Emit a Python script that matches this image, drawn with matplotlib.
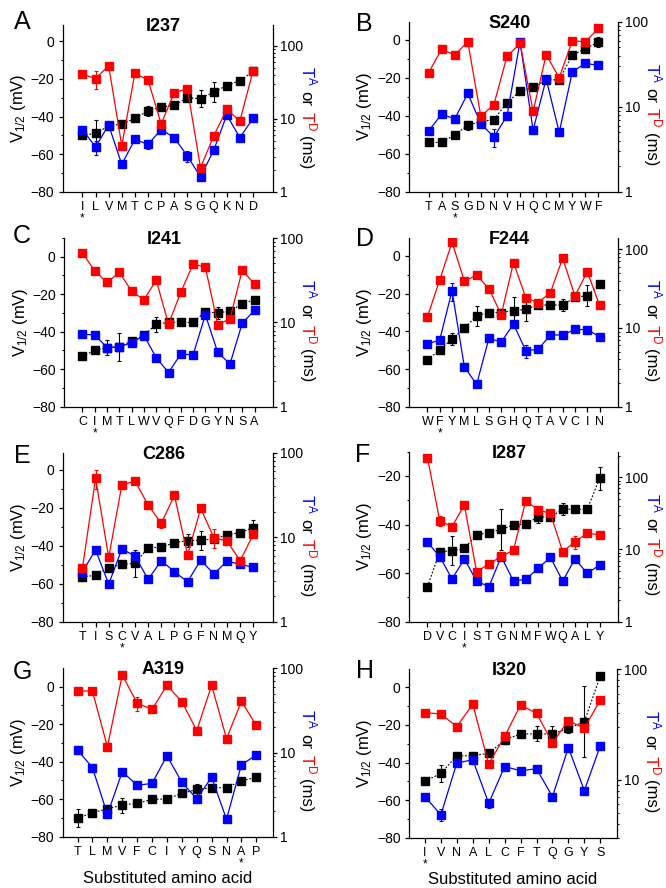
import matplotlib
matplotlib.use('Agg')
import matplotlib.pyplot as plt
from matplotlib.ticker import MultipleLocator, LogLocator, FuncFormatter, NullFormatter
import matplotlib.transforms as mtransforms

plt.rcParams['font.family'] = ['Liberation Sans', 'DejaVu Sans']
plt.rcParams['mathtext.fontset'] = 'custom'
plt.rcParams['mathtext.rm'] = 'Liberation Sans'
plt.rcParams['mathtext.it'] = 'Liberation Sans:italic'
plt.rcParams['mathtext.bf'] = 'Liberation Sans:bold'

# ---------------- data ----------------
A_aa = list("ILVMTCPASGQKND")
A_wt = 0
A_v = [-50, -49, -45, -44, -41, -37, -35, -34, -30, -30.5, -27, -23.5, -21, -16]
A_v_err = [0, 7, 2, 0, 0, 2.5, 0, 1.5, 0, 4.5, 5.5, 0, 0, 0]
A_ta = [7.1, 4.1, 8.2, 2.37, 5.2, 4.45, 7.1, 5.5, 3.08, 1.6, 3.68, 11.2, 5.5, 10.1]
A_ta_err = [0.5, 0.9, 0.4, 0.26, 0.3, 0.6, 0, 0.4, 0.5, 0.14, 0.3, 0.5, 0.4, 0.7]
A_td = [40.9, 35.3, 53.2, 4.27, 41.8, 33.9, 8.5, 22.7, 25.8, 2.13, 5.79, 13.4, 9.3, 45]
A_td_err = [0, 10, 6, 0, 0, 3.7, 0.9, 0, 0, 0, 0, 0, 0, 0]

B_aa = list("TASGDNVHQCMYWF")
B_wt = 2
B_v = [-54, -54, -50, -45, -43, -42, -33, -27, -25, -21, -21, -8, -4.5, -1.2]
B_v_err = [0, 0, 0, 2.5, 0, 0, 0, 0, 0, 0, 0, 0, 0, 2.6]
B_ta = [5.17, 8.2, 7.16, 14.3, 6.3, 4.4, 7.77, 58, 5.3, 21.2, 4.99, 25.6, 32.4, 30.6]
B_ta_err = [0.3, 0.4, 0.3, 1.0, 0.3, 1.0, 0.5, 3, 0.4, 0.8, 0.45, 0.8, 0.8, 0.8]
B_td = [25.1, 47.7, 40.5, 58, 7.7, 10.6, 39, 55.6, 8.8, 40.9, 21.9, 59.7, 58, 83.5]
B_td_err = [1.2, 0, 0, 0, 0, 0, 0, 0, 0, 0, 0, 0, 0, 0]

C_aa = list("CIMTLWVQFDGYNSA")
C_wt = 1
C_v = [-53, -50, -48.5, -48, -45, -42, -36, -35, -35, -35, -29.3, -30, -29, -25, -23]
C_v_err = [1.5, 0.5, 4, 7.5, 0.5, 0, 4, 0, 0, 0, 1, 3, 2, 0, 0]
C_ta = [7.23, 7.1, 5.02, 5.1, 5.75, 6.98, 3.82, 2.54, 4.22, 4.11, 12.3, 4.42, 3.21, 9.78, 13.9]
C_ta_err = [0.3, 0.3, 0.3, 0.3, 0.2, 0, 0.2, 0, 0, 0, 0, 0.2, 0, 0, 0]
C_td = [66.3, 40.9, 29.7, 39.1, 23.5, 18.5, 31.7, 9.5, 22.8, 49.1, 45.2, 9.4, 11, 41.7, 28.2]
C_td_err = [0, 0, 0, 0, 0, 0, 0, 0, 0, 0, 0, 0, 0, 0, 0]

D_aa = list("WFYMLSGHQTAVCIN")
D_wt = 1
D_v = [-55, -50, -44, -38.4, -31.7, -30, -30, -29, -28.3, -26, -26, -26, -22, -21, -15]
D_v_err = [0, 0, 3, 2, 5.3, 0, 0, 7, 6, 0, 0, 3, 0, 5.5, 0]
D_ta = [6.26, 7.04, 29.8, 3.22, 1.92, 7.39, 6.64, 11.2, 5.15, 5.35, 8.15, 8.15, 9.6, 9.5, 7.76]
D_ta_err = [0, 0, 8, 0.25, 0, 0, 0, 0.5, 1.0, 0, 0.6, 0.6, 0, 0, 1.0]
D_td = [13.9, 40.8, 122.7, 39.6, 46.7, 31.6, 14.8, 67.7, 24.3, 21, 28.1, 76.9, 25.5, 52, 19.4]
D_td_err = [1.5, 0, 0, 0, 0, 0, 0, 0, 0, 0, 0, 0, 0, 0, 0]

E_aa = list("TISCVALPGFNMQY")
E_wt = 3
E_v = [-56.3, -55.6, -51.5, -49.8, -49.2, -41, -40.8, -38.3, -37.3, -37, -36.4, -34.3, -33, -30.4]
E_v_err = [2, 1.5, 0, 0, 7, 1, 2, 0, 3.5, 5, 0, 0, 0, 4]
E_ta = [3.9, 7.05, 2.79, 7.25, 5.98, 3.17, 5.27, 3.9, 2.97, 5.37, 3.66, 5.22, 4.77, 4.4]
E_ta_err = [0, 0, 0.2, 0, 0.5, 0.25, 0, 0, 0, 0, 0, 0, 0, 0.3]
E_td = [4.28, 49.7, 5.77, 41.4, 46.2, 24, 14.6, 31.3, 6.15, 21.9, 9.86, 9.0, 5.27, 10.8]
E_td_err = [0, 13, 0, 0, 0, 0, 1.7, 0, 0.5, 1.6, 2.5, 0, 0, 0.8]

F_aa = list("DVCISTGNMFWQALY")
F_wt = 3
F_v = [-65.6, -51.2, -50.8, -49.8, -44.3, -43.3, -42, -40.2, -39.8, -36.8, -37, -33.7, -33.7, -33.7, -21]
F_v_err = [0, 1.5, 6, 0, 1.5, 1, 8.5, 0, 0, 2.5, 0, 2.5, 0, 0, 4.7]
F_ta = [12.6, 7.96, 3.9, 7.39, 3.66, 3.05, 7.96, 3.66, 3.86, 5.48, 7.79, 3.66, 7.39, 4.67, 6.1]
F_ta_err = [0, 0, 0, 0, 0, 0, 0, 0, 0, 0, 0, 0, 0, 0, 0]
F_td = [187, 25.1, 20.7, 41.4, 4.93, 6.3, 8, 9.8, 47.5, 35.2, 31.7, 9.3, 12.8, 16.8, 15.9]
F_td_err = [0, 3.7, 0, 0, 0, 0, 0, 0, 0, 0, 0, 0, 2.5, 0, 0]

G_aa = list("TLMVFCIYQSNAP")
G_wt = 11
G_v = [-70.2, -67.2, -65.2, -63.1, -62.2, -60.1, -59.9, -56.9, -54.8, -53.9, -53.9, -50.1, -48.4]
G_v_err = [4.8, 0, 0, 4, 1.5, 0, 0, 0, 3, 0, 0, 0, 0]
G_ta = [10.7, 6.6, 1.84, 5.92, 4.07, 4.3, 9.17, 4.42, 2.83, 5.07, 1.61, 7.17, 9.34]
G_ta_err = [1.2, 0.7, 0.15, 0, 0, 0.3, 0, 0, 0, 0, 0, 0, 0]
G_td = [54.3, 53.3, 11.7, 83.3, 38.4, 32.6, 62.8, 40.2, 18.2, 62.8, 14.6, 40.5, 21]
G_td_err = [0, 0, 0, 0, 7, 0, 0, 0, 0, 0, 0, 0, 0]

H_aa = list("IVNALCFTQGYS")
H_wt = 0
H_v = [-50, -45.8, -36.4, -36.4, -35.1, -28, -24.8, -24.8, -24.8, -21.8, -18.3, 6]
H_v_err = [0, 4.6, 0, 0, 0, 2, 0, 4, 4, 2.5, 19, 0]
H_ta = [7.06, 4.83, 14.2, 15.2, 6.15, 13.2, 12.1, 12.6, 7.06, 19.6, 8.0, 20.3]
H_ta_err = [0, 0.6, 0.8, 0, 0.6, 0, 0, 0, 0.4, 0, 0, 0]
H_td = [40.6, 39.4, 30.3, 48.3, 13.9, 24.7, 47.6, 40, 21.7, 34.3, 29.3, 52.8]
H_td_err = [0, 0, 0, 0, 0, 0, 0, 0, 0, 0, 0, 0]

titles = ["I237", "S240", "I241", "F244", "C286", "I287", "A319", "I320"]
letters = ["A", "B", "C", "D", "E", "F", "G", "H"]

# ---------------- layout ----------------
W, H = 666, 888
fig = plt.figure(figsize=(W / 100, H / 100), dpi=100)

# (left, top, right, bottom) in px
rects = [
    (62.7, 25, 272.7, 191.7),
    (409, 21.7, 618, 191.7),
    (64, 238, 273, 406.7),
    (409, 238, 618, 406.7),
    (62.7, 452.7, 273, 621.7),
    (409, 451.7, 618, 621.7),
    (62.7, 668.3, 272.7, 836.7),
    (409, 669.3, 617, 837.7),
]
left_ylims = [(-80, 8.7), (-80, 9.65), (-80, 10), (-80, 9.55), (-80, 9.1), (-80, -10), (-80, 9.8), (-80, 9.6)]
right_ylims = [(1, 192), (1, 100), (1, 100), (1, 139), (1, 100), (1, 226), (1, 100), (3, 100)]
xpad = [(1.5, 1.5), (1.5, 1.5), (1.5, 1.5), (1.5, 1.5), (1.5, 1.5), (1.5, 1.5), (1.0, 1.1), (1.0, 1.05)]
letter_pos = [(22, 22), (364, 24), (22, 236), (365, 239), (22, 456), (363, 455), (22, 672), (365, 671)]

panels = [
    (A_aa, A_wt, A_v, A_v_err, A_ta, A_ta_err, A_td, A_td_err),
    (B_aa, B_wt, B_v, B_v_err, B_ta, B_ta_err, B_td, B_td_err),
    (C_aa, C_wt, C_v, C_v_err, C_ta, C_ta_err, C_td, C_td_err),
    (D_aa, D_wt, D_v, D_v_err, D_ta, D_ta_err, D_td, D_td_err),
    (E_aa, E_wt, E_v, E_v_err, E_ta, E_ta_err, E_td, E_td_err),
    (F_aa, F_wt, F_v, F_v_err, F_ta, F_ta_err, F_td, F_td_err),
    (G_aa, G_wt, G_v, G_v_err, G_ta, G_ta_err, G_td, G_td_err),
    (H_aa, H_wt, H_v, H_v_err, H_ta, H_ta_err, H_td, H_td_err),
]

MS = 5.3
LBL = 12
TICK = 10

logfmt = FuncFormatter(lambda v, p: f"{v:g}" if v in (1, 10, 100) else "")

for i, (aa, wt, v, verr, ta, taerr, td, tderr) in enumerate(panels):
    l, t, r, b = rects[i]
    wpx, hpx = r - l, b - t
    ax = fig.add_axes([l / W, 1 - b / H, wpx / W, hpx / H])
    ax.set_facecolor('none')
    ax2 = ax.twinx()
    n = len(aa)
    x = list(range(n))

    # black V1/2
    ax.errorbar(x, v, yerr=verr, color='black', ecolor='black', elinewidth=0.8,
                capsize=1.6, capthick=0.8, lw=0.8, ls=(0, (1.6, 1.6)),
                marker='s', ms=MS, mfc='black', mec='black', zorder=3)
    # blue TA and red TD on log axis
    ax2.errorbar(x, ta, yerr=taerr, color='blue', ecolor='blue', elinewidth=0.8,
                 capsize=1.6, capthick=0.8, lw=0.9, marker='s', ms=MS,
                 mfc='blue', mec='blue', zorder=3)
    ax2.errorbar(x, td, yerr=tderr, color='red', ecolor='red', elinewidth=0.8,
                 capsize=1.6, capthick=0.8, lw=0.9, marker='s', ms=MS,
                 mfc='red', mec='red', zorder=4)

    ax.set_xlim(-xpad[i][0], n - 1 + xpad[i][1])
    ax.set_ylim(*left_ylims[i])
    ax2.set_yscale('log')
    ax2.set_ylim(*right_ylims[i])

    ax.yaxis.set_major_locator(MultipleLocator(20))
    ax.yaxis.set_minor_locator(MultipleLocator(10))
    ax2.yaxis.set_major_locator(LogLocator(base=10))
    ax2.yaxis.set_minor_locator(LogLocator(base=10, subs=[2, 3, 4, 5, 6, 7, 8, 9]))
    ax2.yaxis.set_major_formatter(logfmt)
    ax2.yaxis.set_minor_formatter(NullFormatter())

    ax.set_xticks(x)
    ax.set_xticklabels(aa, fontsize=9)
    ax.tick_params(axis='x', direction='out', length=3.5, width=0.9, pad=3.5)
    ax.tick_params(axis='y', which='major', direction='out', length=3, width=0.9,
                   labelsize=TICK, pad=3)
    ax.tick_params(axis='y', which='minor', direction='out', length=1.8, width=0.8)
    ax2.tick_params(axis='y', which='major', direction='out', length=3, width=0.9,
                    labelsize=TICK, pad=2)
    ax2.tick_params(axis='y', which='minor', direction='out', length=1.5, width=0.7)

    for s in ['top', 'right']:
        ax.spines[s].set_visible(False)
    for s in ['top', 'left', 'bottom']:
        ax2.spines[s].set_visible(False)
    for sp in [ax.spines['left'], ax.spines['bottom'], ax2.spines['right']]:
        sp.set_linewidth(0.9)

    # wild type asterisk
    trans = mtransforms.blended_transform_factory(ax.transData, ax.transAxes)
    ax.text(wt, -26.5 / hpx, '*', transform=trans, ha='center', va='center',
            fontsize=8.5)

    # title and panel letter
    ax.text(0.48, 1 - 1.5 / hpx, titles[i], transform=ax.transAxes, ha='center',
            va='center', fontsize=13, fontweight='bold')
    fig.text(letter_pos[i][0] / W, 1 - letter_pos[i][1] / H, letters[i],
             ha='center', va='center', fontsize=18)

    # left y label
    ax.text(-44 / wpx, 0.5, r'V$_{\mathregular{1/2}}$ (mV)', transform=ax.transAxes,
            rotation=90, ha='center', va='center', fontsize=LBL)

    # right multi-colour label
    t1 = ax2.text(1 + 25.5 / wpx, 1 - 41 / hpx, r'T$^{\mathregular{A}}$',
                  transform=ax2.transAxes, rotation=270, ha='left', va='top',
                  color='blue', fontsize=LBL)
    t2 = ax2.annotate('or', xy=(0, 0), xycoords=t1, xytext=(0, -3.5),
                      textcoords='offset points', rotation=270, ha='left',
                      va='top', color='black', fontsize=LBL)
    t3 = ax2.annotate(r'T$^{\mathregular{D}}$', xy=(0, 0), xycoords=t2,
                      xytext=(0, -3.5), textcoords='offset points', rotation=270,
                      ha='left', va='top', color='red', fontsize=LBL)
    ax2.annotate('(ms)', xy=(0, 0), xycoords=t3, xytext=(0, -3.5),
                 textcoords='offset points', rotation=270, ha='left', va='top',
                 color='black', fontsize=LBL)

    if i >= 6:
        fig.text((l + r) / 2 / W, 1 - (b + 42) / H, 'Substituted amino acid',
                 ha='center', va='center', fontsize=LBL)

fig.savefig('out.png', dpi=100)
